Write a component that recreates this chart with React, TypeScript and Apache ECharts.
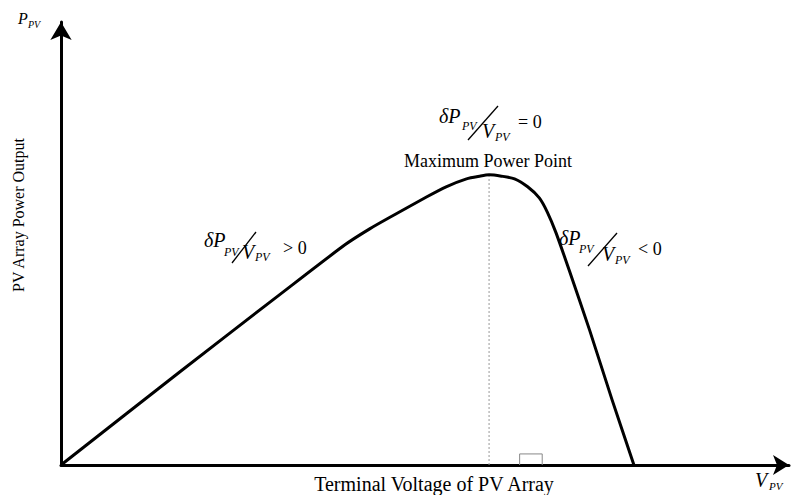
import React, { useEffect, useRef } from "react";
import * as echarts from "echarts";

// P-V curve (x: terminal voltage, y: power output), arbitrary units
const curveV = [0, 16.3, 30.0, 39.0, 42.4, 45.5, 50.2, 52.9, 55.7, 57.5, 58.8, 60.5, 62.3, 64.1, 65.7, 66.8, 68.0, 69.8, 72.6, 75.7, 78.7];
const curveP = [0, 21.0, 38.4, 49.7, 53.3, 56.2, 60.5, 62.8, 64.6, 65.2, 65.5, 65.2, 64.6, 62.8, 60.3, 57.1, 52.4, 44.0, 30.5, 14.7, 0];
const mppV = 58.8;
const mppP = 65.5;
const squareV = [63.0, 66.1];
const squareP = 2.5;

const xAxisTitle = "Terminal Voltage of PV Array";
const yAxisTitle = "PV Array Power Output";
const mppTitle = "Maximum Power Point";

const FONT = "'Liberation Serif', 'Times New Roman', serif";

function t(x: number, y: number, text: string, size: number, italic = true, align = "left") {
  return {
    type: "text",
    x,
    y,
    silent: true,
    style: {
      text,
      fill: "#000",
      font: `${italic ? "italic " : ""}${size}px ${FONT}`,
      textAlign: align,
      textVerticalAlign: "middle",
    },
  };
}

function ln(x1: number, y1: number, x2: number, y2: number) {
  return {
    type: "line",
    silent: true,
    shape: { x1, y1, x2, y2 },
    style: { stroke: "#000", lineWidth: 1.3 },
  };
}

export default function App() {
  const ref = useRef<HTMLDivElement>(null);
  useEffect(() => {
    if (!ref.current) return;
    const chart = echarts.init(ref.current, null, { renderer: "svg" });
    const curve = curveV.map((v, i) => [v, curveP[i]]);
    chart.setOption({
      animation: false,
      backgroundColor: "#fff",
      grid: { left: 61, right: 9, top: 22, bottom: 30 },
      xAxis: {
        type: "value",
        min: 0,
        max: 100,
        axisLine: { show: true, onZero: false, symbol: ["none", "arrow"], symbolSize: [15, 16], lineStyle: { color: "#000", width: 3 } },
        axisTick: { show: false },
        axisLabel: { show: false },
        splitLine: { show: false },
      },
      yAxis: {
        type: "value",
        min: 0,
        max: 100,
        axisLine: { show: true, onZero: false, symbol: ["none", "arrow"], symbolSize: [16, 18], lineStyle: { color: "#000", width: 3 } },
        axisTick: { show: false },
        axisLabel: { show: false },
        splitLine: { show: false },
      },
      series: [
        {
          type: "line",
          data: [[mppV, 0], [mppV, mppP]],
          showSymbol: false,
          silent: true,
          lineStyle: { color: "#999", width: 1, type: [2, 2] },
          z: 1,
        },
        {
          type: "line",
          data: [[squareV[0], 0], [squareV[0], squareP], [squareV[1], squareP], [squareV[1], 0]],
          showSymbol: false,
          silent: true,
          lineStyle: { color: "#888", width: 1 },
          z: 1,
        },
        {
          type: "line",
          data: curve,
          smooth: 0.25,
          showSymbol: false,
          silent: true,
          lineStyle: { color: "#000", width: 3, join: "round" },
          z: 3,
        },
      ],
      graphic: [
        // axis titles
        t(18, 18, "P", 16),
        t(28, 24, "PV", 10),
        t(755, 480, "V", 20),
        t(769, 486, "PV", 11),
        t(434, 484, xAxisTitle, 20, false, "center"),
        { ...t(18, 215, yAxisTitle, 16, false, "center"), rotation: Math.PI / 2 },
        // MPP
        t(488, 161, mppTitle, 18, false, "center"),
        t(439, 116, "δP", 20),
        t(462, 126, "PV", 12),
        ln(468, 140, 498, 106),
        t(482, 131, "V", 20),
        t(495, 137, "PV", 12),
        t(518, 122, "= 0", 18, false),
        // left
        t(204, 240, "δP", 20),
        t(224, 252, "PV", 12),
        ln(232, 263, 256, 232),
        t(242, 252, "V", 20),
        t(255, 257, "PV", 12),
        t(283, 248, "> 0", 18, false),
        // right
        t(559, 238, "δP", 20),
        t(579, 249, "PV", 12),
        ln(588, 266, 617, 233),
        t(602, 254, "V", 20),
        t(615, 260, "PV", 12),
        t(638, 249, "< 0", 18, false),
      ],
    });
    return () => chart.dispose();
  }, []);
  return <div ref={ref} style={{ position: "fixed", left: 0, top: 0, width: 798, height: 495 }} />;
}
